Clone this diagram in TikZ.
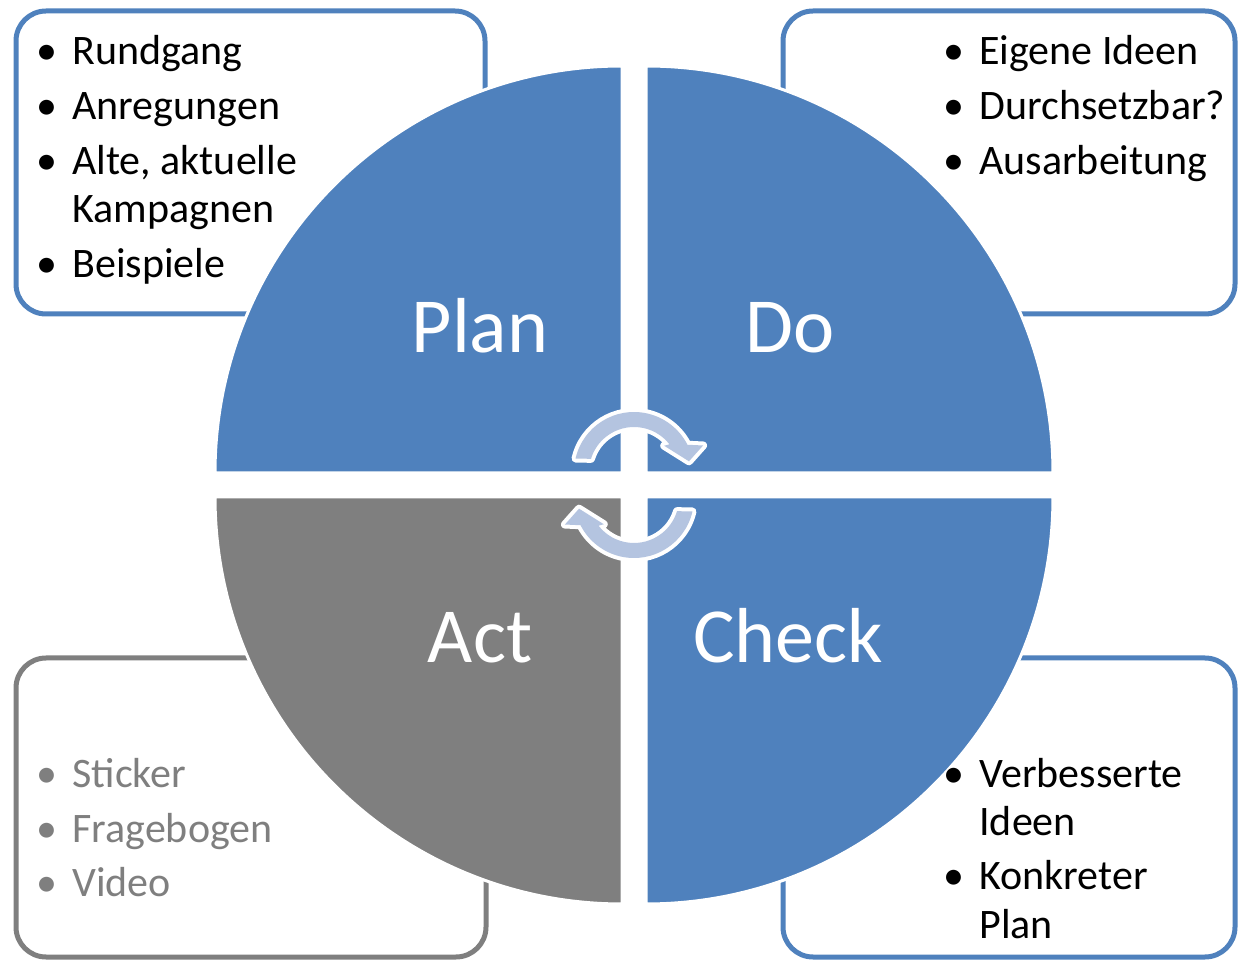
\documentclass[tikz,border=0pt]{standalone}
\usepackage{fontspec}
\setmainfont{Carlito}
\usepackage{tikz}
\usetikzlibrary{calc,positioning}

\definecolor{pdcablue}{RGB}{79,129,189}
\definecolor{pdcagray}{RGB}{127,127,127}
\definecolor{turnblue}{RGB}{180,196,224}

\newcommand{\itm}{\makebox[18pt][l]{\textbullet}}

\begin{document}
\begin{tikzpicture}[x=0.5pt,y=0.5pt]
    \tikzstyle{box}=[line width=2.5pt, rounded corners=15pt, fill=white]
    \tikzstyle{quarter}=[draw=white, line width=1.5pt]
    \tikzstyle{phase}=[text=white, font=\fontsize{39}{47}\selectfont, inner sep=0pt, anchor=base]
    \tikzstyle{list}=[inner sep=0pt, anchor=base west, font=\fontsize{21}{24}\selectfont]
    \tikzstyle{turn}=[fill=turnblue, preaction={draw=white, line width=4pt, line join=round}]

    \useasboundingbox (0,0) rectangle (1238,960);

    % boxes behind the circle
    \draw[box, draw=pdcablue] (16,646) rectangle (485,949);
    \draw[box, draw=pdcablue] (783,646) rectangle (1235,949);
    \draw[box, draw=pdcagray] (16,3) rectangle (486,302);
    \draw[box, draw=pdcablue] (783,3) rectangle (1235,302);

    % the four quarters
    \fill[pdcablue, quarter] (622,487) -- ++(-407,0) arc[start angle=180, end angle=90, radius=407] -- cycle;
    \fill[pdcablue, quarter] (646,487) -- ++(407,0) arc[start angle=0, end angle=90, radius=407] -- cycle;
    \fill[pdcagray, quarter] (622,463) -- ++(-407,0) arc[start angle=180, end angle=270, radius=407] -- cycle;
    \fill[pdcablue, quarter] (646,463) -- ++(407,0) arc[start angle=0, end angle=-90, radius=407] -- cycle;

    % turning arrows in the middle
    \foreach \t in {0,180}
    {
      \begin{scope}[rotate around={\t:(634,475)}, shift={(634,488)}]
        \path[turn] (167:60) arc[start angle=167, end angle=27, radius=60]
          -- (21:74) -- (11:56) -- (41:40) -- (38:45)
          arc[start angle=38, end angle=163, radius=45] -- cycle;
      \end{scope}
    }

    \node[phase] (plan)  at (480,607) {Plan};
    \node[phase] (do)    at (790,607) {Do};
    \node[phase] (act)   at (480,298) {Act};
    \node[phase] (check) at (788,298) {Check};

    \node[list] (planList) at (36,895) {\begin{tabular}[t]{@{}l@{}}
      \itm Rundgang\\[3.5pt]
      \itm Anregungen\\[3.5pt]
      \itm Alte, aktuelle\\
      \hspace*{18pt}Kampagnen\\[3.5pt]
      \itm Beispiele
    \end{tabular}};
    \node[list] (doList) at (943,895) {\begin{tabular}[t]{@{}l@{}}
      \itm Eigene Ideen\\[3.5pt]
      \itm Durchsetzbar?\\[3.5pt]
      \itm Ausarbeitung
    \end{tabular}};
    \node[list] (checkList) at (943,173) {\begin{tabular}[t]{@{}l@{}}
      \itm Verbesserte\\
      \hspace*{18pt}Ideen\\[3.5pt]
      \itm Konkreter\\
      \hspace*{18pt}Plan
    \end{tabular}};
    \node[list, text=pdcagray] (actList) at (36,173) {\begin{tabular}[t]{@{}l@{}}
      \itm Sticker\\[3.5pt]
      \itm Fragebogen\\[3.5pt]
      \itm Video
    \end{tabular}};
\end{tikzpicture}
\end{document}
